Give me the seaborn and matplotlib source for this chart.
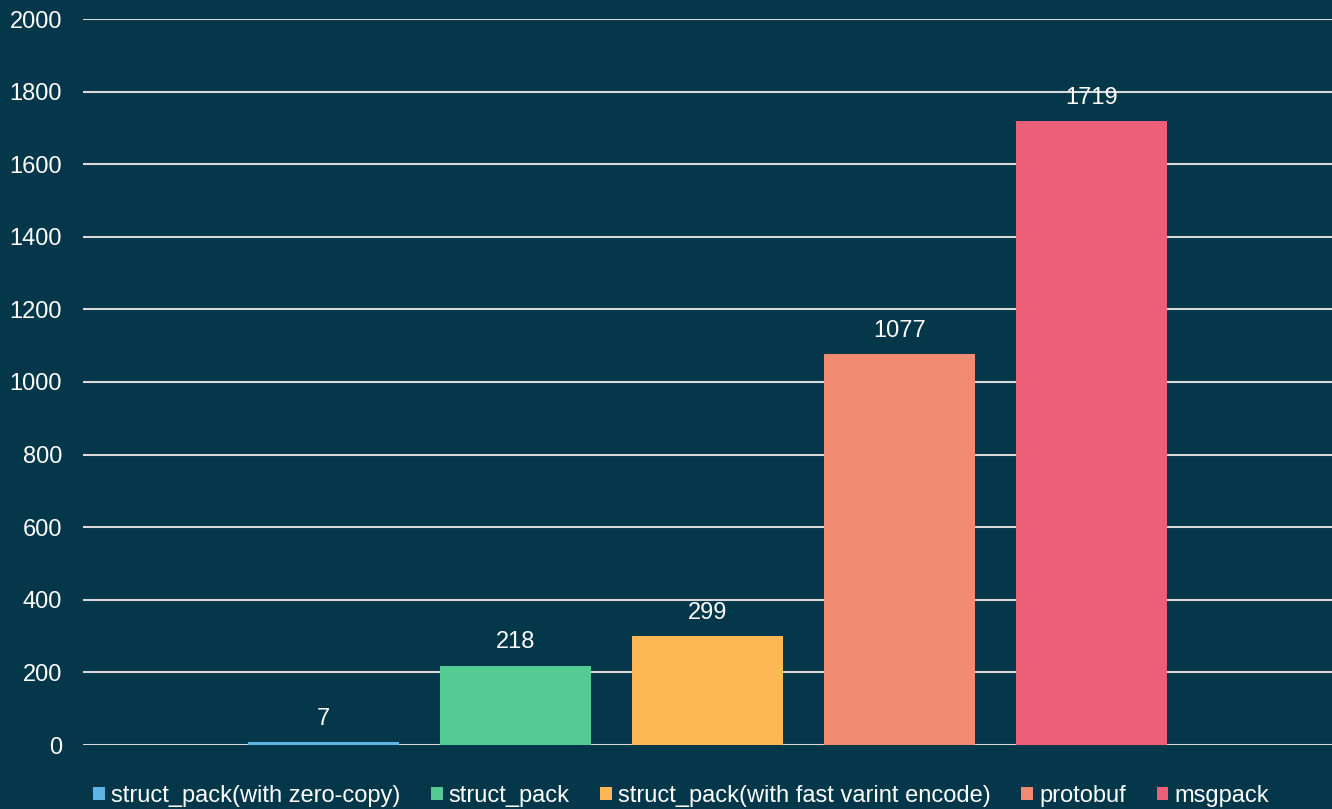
import matplotlib
matplotlib.use("Agg")
import matplotlib.pyplot as plt
import seaborn as sns
import pandas as pd
from matplotlib.patches import Patch

series = ["struct_pack(with zero-copy)", "struct_pack",
          "struct_pack(with fast varint encode)", "protobuf", "msgpack"]
values = [7, 218, 299, 1077, 1719]
colors = ["#5BB5E5", "#55CB94", "#FFB755", "#F08A70", "#EC5F77"]
yticks = [0, 200, 400, 600, 800, 1000, 1200, 1400, 1600, 1800, 2000]

bg = "#033749"
sns.set_theme(style="white")
plt.rcParams["font.family"] = ["Liberation Sans", "DejaVu Sans"]

df = pd.DataFrame({"group": [""] * len(series), "series": series, "value": values})

fig = plt.figure(figsize=(13.32, 8.09), dpi=100, facecolor=bg)
ax = fig.add_axes([83 / 1332, 1 - 745 / 809, 1 - 83 / 1332, (745 - 19) / 809])
ax.set_facecolor(bg)

sns.barplot(data=df, x="group", y="value", hue="series", hue_order=series,
            palette=colors, width=0.7686, gap=0.214, ax=ax, legend=False,
            saturation=1, linewidth=0)

for c in ax.containers:
    ax.bar_label(c, labels=[f"{v:g}" for v in c.datavalues], padding=9,
                 color="white", fontsize=17)

ax.set_ylim(0, 2000)
ax.set_xlim(-0.5, 0.5)
ax.set_yticks(yticks)
ax.set_yticklabels([str(t) for t in yticks], color="white", fontsize=17)
ax.tick_params(axis="y", length=0, pad=15)
ax.tick_params(axis="x", length=0, labelbottom=False)
ax.set_xlabel("")
ax.set_ylabel("")
ax.yaxis.grid(True, color="#D9D9D9", linewidth=1.5)
ax.set_axisbelow(True)
for s in ax.spines.values():
    s.set_visible(False)

handles = [Patch(facecolor=c, edgecolor="none", label=l) for c, l in zip(colors, series)]
leg = fig.legend(handles=handles, loc="center", bbox_to_anchor=(681 / 1332, 1 - 796 / 809),
                 ncol=5, frameon=False, fontsize=17, labelcolor="white",
                 handlelength=0.5, handleheight=0.5, handletextpad=0.25,
                 columnspacing=1.3, borderaxespad=0)

fig.savefig("out.png", dpi=100, facecolor=bg)
